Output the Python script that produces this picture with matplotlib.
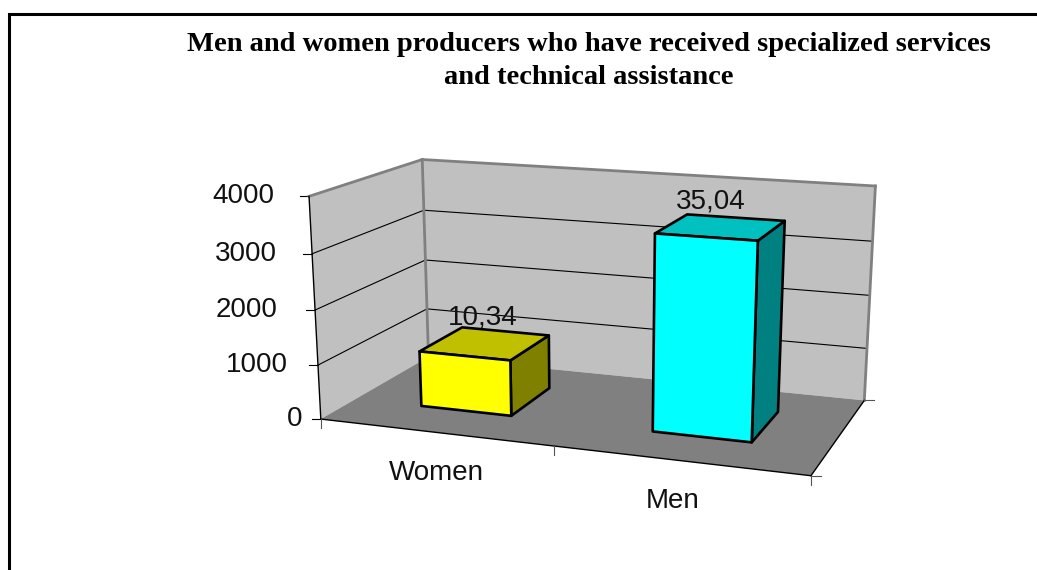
import numpy as np
import matplotlib
matplotlib.use('Agg')
import matplotlib.pyplot as plt
from matplotlib.patches import Polygon

# data
categories = ['Women', 'Men']
values = [1034, 3504]
value_labels = ['10,34', '35,04']
value_ticks = [0, 1000, 2000, 3000, 4000]
bar_colors = [('#FFFF00', '#C0C000', '#808000'), ('#00FFFF', '#00C0C0', '#008080')]
title = 'Men and women producers who have received specialized services\nand technical assistance'

W, H = 1037, 570
VMAX = value_ticks[-1]
N = len(categories)

# camera: fit a perspective projection on landmarks of the chart box
box = [((0, 0, 0), (320, 418)), ((0, 0, 1000), (317.5, 366)), ((0, 0, 2000), (315, 312)),
       ((0, 0, 3000), (312.5, 255)), ((0, 0, VMAX), (310, 194)),
       ((0, 1, 0), (429, 356)), ((0, 1, 1000), (427, 308)), ((0, 1, 2000), (425, 261)),
       ((0, 1, 3000), (424, 211)), ((0, 1, VMAX), (422, 159)),
       ((N, 1, 0), (865, 399)), ((N, 1, 1000), (867, 350)), ((N, 1, 2000), (870, 297)),
       ((N, 1, 3000), (872, 242)), ((N, 1, VMAX), (875, 184)),
       ((N, 0, 0), (811, 475))]
A, b = [], []
for (x, d, v), (px, py) in box:
    v = v / VMAX
    A.append([x, d, v, 1, 0, 0, 0, 0, -px * x, -px * d, -px * v])
    b.append(px)
    A.append([0, 0, 0, 0, x, d, v, 1, -py * x, -py * d, -py * v])
    b.append(py)
p = np.linalg.lstsq(np.array(A, float), np.array(b, float), rcond=None)[0]


def proj(x, d, v):
    v = v / VMAX
    w = p[8] * x + p[9] * d + p[10] * v + 1
    return ((p[0] * x + p[1] * d + p[2] * v + p[3]) / w,
            (p[4] * x + p[5] * d + p[6] * v + p[7]) / w)


fig = plt.figure(figsize=(W / 100, H / 100), dpi=100)
ax = fig.add_axes([0, 0, 1, 1])
ax.set_xlim(0, W)
ax.set_ylim(H, 0)
ax.axis('off')

# walls and floor
ax.add_patch(Polygon([proj(0, 0, 0), proj(0, 1, 0), proj(0, 1, VMAX), proj(0, 0, VMAX)], fc='#C0C0C0', ec='none'))
ax.add_patch(Polygon([proj(0, 1, 0), proj(N, 1, 0), proj(N, 1, VMAX), proj(0, 1, VMAX)], fc='#C0C0C0', ec='none'))
ax.add_patch(Polygon([proj(0, 0, 0), proj(N, 0, 0), proj(N, 1, 0), proj(0, 1, 0)], fc='#808080', ec='none'))


def line(a, b, **kw):
    ax.plot(*zip(proj(*a), proj(*b)), solid_capstyle='projecting', **kw)


label_style = dict(fontsize=20, family='Liberation Sans', color='#111111', zorder=5)

# gridlines and ticks on the value axis
for t in value_ticks[1:-1]:
    line((0, 0, t), (0, 1, t), color='black', lw=0.8)
    line((0, 1, t), (N, 1, t), color='black', lw=0.8)
tick_pads = [18, 30.5, 38, 35.5, 35]  # the original labels are not right aligned
for t, pad in zip(value_ticks, tick_pads):
    px, py = proj(0, 0, t)
    ax.plot([px - 9, px], [py, py], color='black', lw=0.8)
    ax.text(px - pad, py, str(t), ha='right', va='center', **label_style)

# wall edges
wall_edge = dict(color='#808080', lw=2)
line((0, 0, VMAX), (0, 1, VMAX), **wall_edge)
line((0, 1, VMAX), (N, 1, VMAX), **wall_edge)
line((N, 1, VMAX), (N, 1, 0), **wall_edge)
line((0, 1, VMAX), (0, 1, 0), **wall_edge)

# axis lines
line((0, 0, 0), (0, 0, VMAX), color='black', lw=1)
line((0, 0, 0), (N, 0, 0), color='black', lw=1)
line((N, 0, 0), (N, 1, 0), color='black', lw=1)
for i in range(N + 1):
    px, py = proj(i, 0, 0)
    ax.plot([px, px], [py, py + 9], color='#555555', lw=0.8)
for d in (0, 1):
    px, py = proj(N, d, 0)
    ax.plot([px, px + 10], [py, py], color='#555555', lw=0.8)

# bars
half = 0.2
d0, d1 = 0.3, 0.72
value_dx = [-2, -10]
cat_dx = [2, -6]
for i, (val, cols) in enumerate(zip(values, bar_colors)):
    x0, x1 = i + 0.5 - half, i + 0.5 + half
    edge = dict(ec='black', lw=1.9, joinstyle='round', zorder=4)
    ax.add_patch(Polygon([proj(x1, d0, 0), proj(x1, d1, 0), proj(x1, d1, val), proj(x1, d0, val)], fc=cols[2], **edge))
    ax.add_patch(Polygon([proj(x0, d0, val), proj(x1, d0, val), proj(x1, d1, val), proj(x0, d1, val)], fc=cols[1], **edge))
    ax.add_patch(Polygon([proj(x0, d0, 0), proj(x1, d0, 0), proj(x1, d0, val), proj(x0, d0, val)], fc=cols[0], **edge))
    px, py = proj(i + 0.5, 0.5, val)
    ax.text(px + value_dx[i], py - 26, value_labels[i], ha='center', va='center', **label_style)
    px, py = proj(i + 0.5, 0, 0)
    ax.text(px + cat_dx[i], py + 41, categories[i], ha='center', va='center', **label_style)

# title
ax.text(589, 61, title, ha='center', va='center', fontsize=20.5, fontweight='bold',
        family='Liberation Serif', linespacing=1.37)

# frame, cut by the picture edge
ax.plot([9, 9, W + 5], [H + 5, 14, 14], color='black', lw=2.2, solid_joinstyle='miter')

fig.savefig('out.png', dpi=100)
